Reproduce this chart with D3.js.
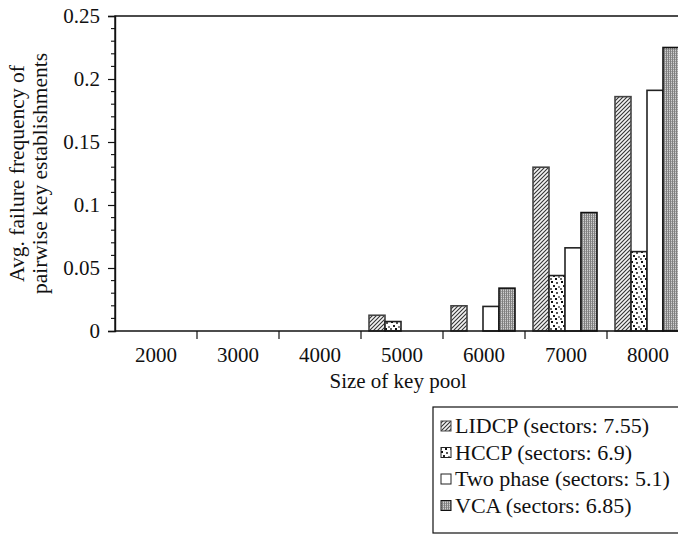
<!DOCTYPE html>
<html><head><meta charset="utf-8">
<script src="https://cdn.jsdelivr.net/npm/d3@7"></script>
<style>body{margin:0;background:#fff}svg{display:block}text{font-family:"Liberation Serif","Times New Roman",serif;fill:#111}</style>
</head><body><svg id="c" width="678" height="535"></svg>
<script>
const categories = ["2000","3000","4000","5000","6000","7000","8000"];
const seriesNames = ["LIDCP (sectors: 7.55)","HCCP (sectors: 6.9)","Two phase (sectors: 5.1)","VCA (sectors: 6.85)"];
const lidcp    = [0, 0, 0, 0.0125, 0.020, 0.130, 0.186];
const hccp     = [0, 0, 0, 0.0075, 0,     0.044, 0.063];
const twoPhase = [0, 0, 0, 0,      0.0195,0.066, 0.191];
const vca      = [0, 0, 0, 0,      0.034, 0.094, 0.225];
const yTicks = [0, 0.05, 0.1, 0.15, 0.2, 0.25];
const yTickLabels = ["0","0.05","0.1","0.15","0.2","0.25"];
const xTitle = "Size of key pool";
const yTitle = ["Avg. failure frequency of","pairwise key establishments"];

const svg = d3.select("#c");
const M = {l:115, t:16, r:689, b:331};
const fs = 21;

const defs = svg.append("defs");
// hatch
const ph = defs.append("pattern").attr("id","pHatch").attr("patternUnits","userSpaceOnUse").attr("width",4).attr("height",4);
ph.append("rect").attr("width",4).attr("height",4).attr("fill","#f4f4f4");
ph.append("path").attr("d","M-1,1 l2,-2 M0,4 l4,-4 M3,5 l2,-2").attr("stroke","#333").attr("stroke-width",1.1);
// dots
const pd = defs.append("pattern").attr("id","pDots").attr("patternUnits","userSpaceOnUse").attr("width",10).attr("height",10);
pd.append("rect").attr("width",10).attr("height",10).attr("fill","#fff");
[[1,1,"#111"],[6,2,"#555"],[3,5,"#222"],[8,6,"#888"],[0,8,"#666"],[5,8,"#111"]].forEach(d=>pd.append("rect").attr("x",d[0]).attr("y",d[1]).attr("width",2).attr("height",2).attr("fill",d[2]));
// fine grid
const pg = defs.append("pattern").attr("id","pGrid").attr("patternUnits","userSpaceOnUse").attr("width",2).attr("height",2);
pg.append("rect").attr("width",2).attr("height",2).attr("fill","#d0d0d0");
pg.append("rect").attr("width",1).attr("height",2).attr("fill","#808080");
pg.append("rect").attr("x",1).attr("y",1).attr("width",1).attr("height",1).attr("fill","#a0a0a0");

const fills = ["url(#pHatch)","url(#pDots)","#fff","url(#pGrid)"];
const strokes = ["#444","#222","#222","#111"];

const x = d3.scaleBand().domain(categories).range([M.l, M.r]).paddingInner(0).paddingOuter(0);
const xs = d3.scaleBand().domain(seriesNames).range([8, x.bandwidth()-10]).padding(0);
const y = d3.scaleLinear().domain([0,0.25]).range([M.b, M.t]);

const allSeries = [lidcp, hccp, twoPhase, vca];

// bars
allSeries.forEach((vals, si) => {
  svg.append("g").selectAll("rect").data(categories.map((c,i)=>({c, v: vals[i]})).filter(d=>d.v>0))
    .join("rect")
    .attr("x", d => x(d.c) + xs(seriesNames[si]))
    .attr("y", d => y(d.v))
    .attr("width", xs.bandwidth())
    .attr("height", d => y(0) - y(d.v))
    .attr("fill", fills[si]).attr("stroke", strokes[si]).attr("stroke-width", 1.6);
});

// frame
svg.append("path").attr("d",`M${M.l},${M.b}V${M.t}H${M.r}V${M.b}`).attr("fill","none").attr("stroke","#111").attr("stroke-width",1.4);

// y axis
const yAxis = d3.axisLeft(y).tickValues(yTicks).tickFormat((d,i)=>yTickLabels[i]).tickSize(7).tickPadding(8);
const gy = svg.append("g").attr("transform",`translate(${M.l},0)`).call(yAxis);
gy.select(".domain").attr("stroke","#111").attr("stroke-width",1.4);
gy.selectAll(".tick line").attr("stroke","#111").attr("stroke-width",1.2);
gy.selectAll("text").style("font-size",fs+"px").style("font-family","Liberation Serif");
const minor = d3.range(0, 0.2501, 0.01).filter(v => Math.abs(v*20 - Math.round(v*20)) > 1e-6);
svg.append("g").selectAll("line").data(minor).join("line")
  .attr("x1",M.l-4).attr("x2",M.l).attr("y1",d=>y(d)).attr("y2",d=>y(d)).attr("stroke","#111").attr("stroke-width",1.1);

// x axis
svg.append("line").attr("x1",M.l).attr("x2",M.r).attr("y1",M.b).attr("y2",M.b).attr("stroke","#111").attr("stroke-width",1.6);
svg.append("g").selectAll("line").data(categories.slice(1)).join("line")
  .attr("x1",d=>x(d)).attr("x2",d=>x(d)).attr("y1",M.b).attr("y2",M.b+8).attr("stroke","#111").attr("stroke-width",1.2);
svg.append("g").selectAll("text").data(categories).join("text")
  .attr("x",d=>x(d)+x.bandwidth()/2).attr("y",M.b+31).attr("text-anchor","middle").style("font-size",fs+"px").text(d=>d);

svg.append("text").attr("x",(M.l+M.r)/2 - 4).attr("y",M.b+57).attr("text-anchor","middle").style("font-size",fs+"px").text(xTitle);

// y title
const yt = svg.append("text").attr("transform",`translate(0,${(M.t+M.b)/2}) rotate(-90)`).attr("text-anchor","middle").style("font-size",(fs+0.5)+"px");
yt.append("tspan").attr("x",0).attr("y",24).text(yTitle[0]);
yt.append("tspan").attr("x",0).attr("y",47).text(yTitle[1]);

// legend
const lg = svg.append("g");
lg.append("rect").attr("x",433).attr("y",407).attr("width",280).attr("height",126).attr("fill","#fff").attr("stroke","#111").attr("stroke-width",1.2);
seriesNames.forEach((n,i)=>{
  const cy = 426 + i*26.5;
  lg.append("rect").attr("x",441).attr("y",cy-5).attr("width",10).attr("height",10).attr("fill",fills[i]).attr("stroke",strokes[i]).attr("stroke-width",1);
  lg.append("text").attr("x",455).attr("y",cy+7).style("font-size","22px").text(n);
});
</script></body></html>
